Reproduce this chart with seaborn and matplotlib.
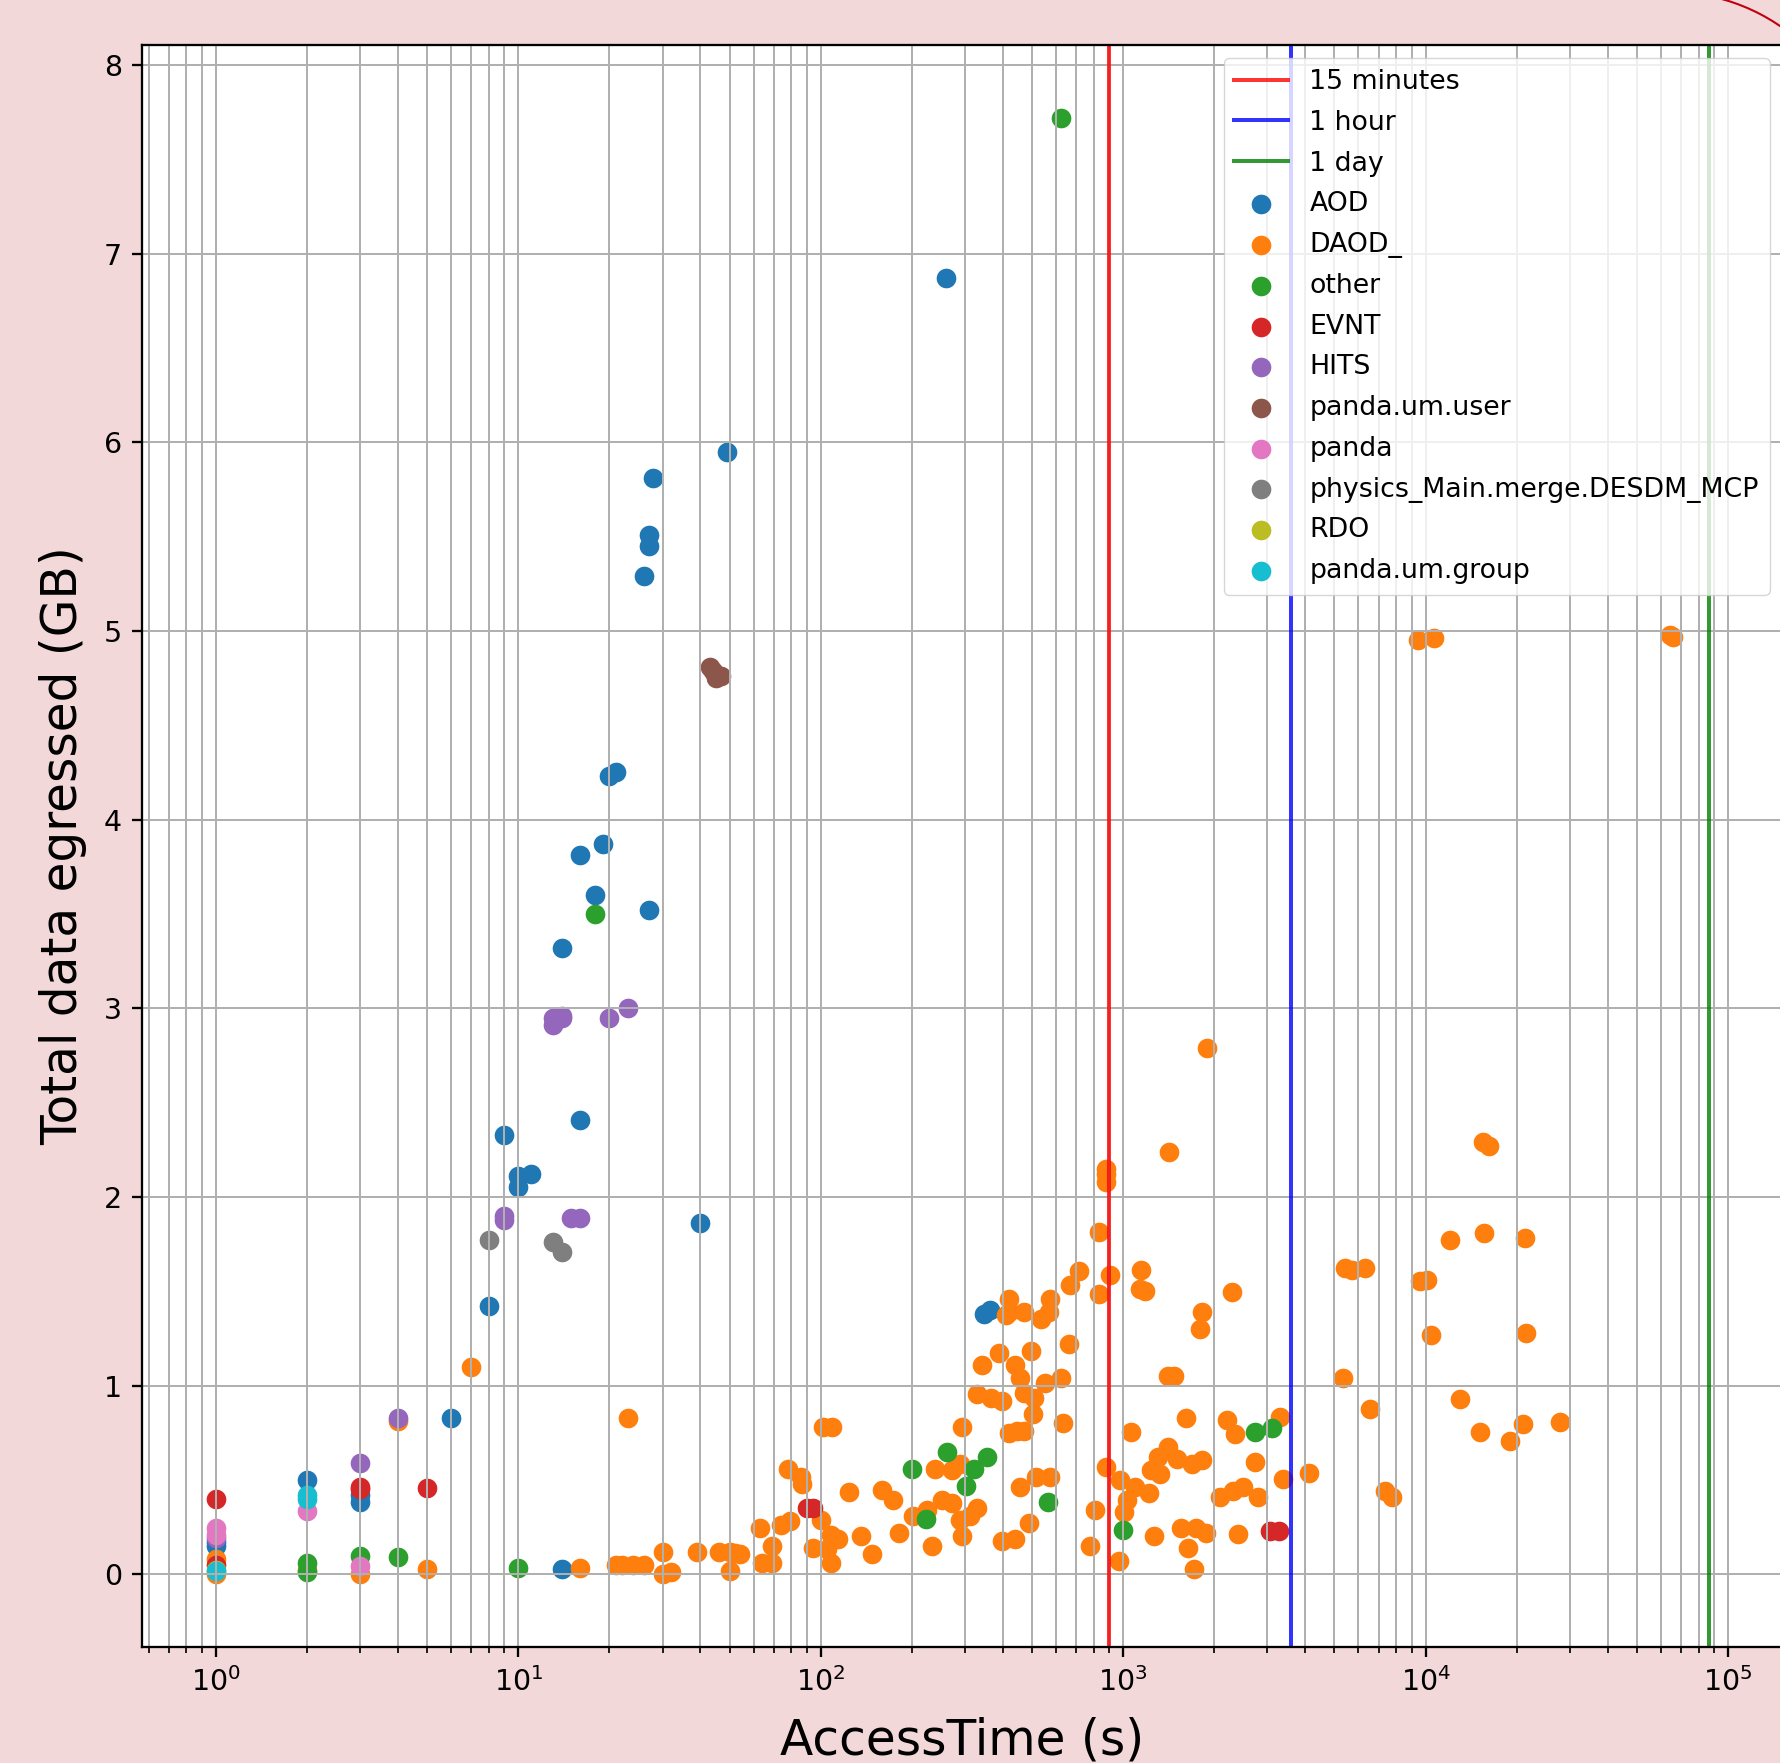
import matplotlib
matplotlib.use("Agg")
import matplotlib.pyplot as plt
from matplotlib.patches import Arc
import seaborn as sns

# === Data: AccessTime (s) vs total data egressed (GB), per dataset type ===
aod_x = [1, 1, 2, 3, 3, 6, 14, 8, 9, 10, 11, 10, 16, 14, 18, 27, 16, 19, 20, 21,
         26, 27, 27, 28, 49, 260, 40, 348, 362]
aod_y = [0.15, 0.17, 0.50, 0.385, 0.42, 0.83, 0.03, 1.42, 2.33, 2.11, 2.12, 2.05, 2.41,
         3.32, 3.60, 3.52, 3.81, 3.87, 4.23, 4.25, 5.29, 5.45, 5.51, 5.81, 5.95, 6.87,
         1.86, 1.38, 1.40]

daod_x = [1, 1, 2, 3, 4, 5, 7, 16, 21, 22, 24, 26, 23, 30, 30, 32, 39, 46, 50, 54, 50,
          831, 716, 669, 902, 1146, 1183, 1140, 831, 1828, 1790, 421, 421, 469, 537, 575,
          568, 410, 388, 495, 662, 341, 439, 457, 552, 624, 330, 367, 398, 469, 509, 502,
          1413, 1472, 1619, 633, 294, 421, 445, 469, 1062, 102, 109, 78, 86, 87, 124, 160,
          174, 238, 272, 288, 877, 1303, 1413, 1513, 1687, 1828, 1320, 1233, 978, 1091,
          1217, 1033, 1005, 809, 777, 966, 1267, 1550, 1736, 1880, 1641, 1722, 457, 517,
          575, 489, 398, 439, 294, 234, 202, 225, 251, 272, 330, 312, 288, 181, 148, 136,
          108, 114, 105, 94, 100, 108, 63, 74, 79, 64, 69, 69, 52,
          2285, 2200, 2345, 2730, 3390, 2800, 2090, 2310, 2495, 2405, 3300,
          15500, 16200, 12090, 15570, 21380, 5420, 5700, 6310, 9580, 10080, 10420, 21540,
          5350, 13040, 6550, 15170, 19090, 20990, 27930, 4130, 7350, 7730,
          9430, 10700, 64300, 66000, 881, 881, 881, 1419, 1888]
daod_y = [0.0, 0.08, 0.02, 0.0, 0.81, 0.026, 1.10, 0.032, 0.05, 0.05, 0.05, 0.05, 0.83,
          0.117, 0.0, 0.01, 0.12, 0.12, 0.12, 0.105, 0.015,
          1.813, 1.608, 1.533, 1.586, 1.612, 1.503, 1.51, 1.486, 1.39, 1.302, 1.46, 1.39,
          1.39, 1.355, 1.46, 1.39, 1.372, 1.171, 1.184, 1.219, 1.11, 1.11, 1.04, 1.014,
          1.04, 0.956, 0.935, 0.918, 0.96, 0.935, 0.848, 1.049, 1.049, 0.83, 0.80, 0.778,
          0.75, 0.76, 0.76, 0.752, 0.781, 0.781, 0.559, 0.516, 0.48, 0.437, 0.446, 0.393,
          0.559, 0.551, 0.586, 0.568, 0.62, 0.673, 0.612, 0.586, 0.603, 0.533, 0.55,
          0.498, 0.463, 0.428, 0.393, 0.332, 0.341, 0.149, 0.07, 0.201, 0.245, 0.245,
          0.218, 0.14, 0.03, 0.463, 0.515, 0.515, 0.271, 0.175, 0.184, 0.2, 0.149, 0.306,
          0.341, 0.393, 0.376, 0.35, 0.306, 0.288, 0.218, 0.105, 0.2, 0.21, 0.184, 0.131,
          0.14, 0.288, 0.061, 0.245, 0.262, 0.28, 0.061, 0.061, 0.149, 0.114,
          1.494, 0.815, 0.745, 0.595, 0.502, 0.407, 0.41, 0.44, 0.46, 0.215, 0.832,
          2.29, 2.27, 1.77, 1.81, 1.78, 1.625, 1.613, 1.625, 1.553, 1.558, 1.27, 1.28,
          1.04, 0.927, 0.878, 0.755, 0.708, 0.798, 0.804, 0.534, 0.44, 0.409,
          4.95, 4.96, 4.98, 4.97, 2.15, 2.12, 2.08, 2.24, 2.79]

other_x = [2, 2, 3, 4, 10, 18, 623, 200, 261, 355, 321, 302, 223, 565, 1000, 2730, 3100]
other_y = [0.01, 0.06, 0.096, 0.093, 0.032, 3.50, 7.72, 0.56, 0.65, 0.62, 0.56, 0.467,
           0.292, 0.381, 0.236, 0.753, 0.776]

evnt_x = [1, 1, 3, 3, 5, 90, 94, 3060, 3270]
evnt_y = [0.40, 0.05, 0.464, 0.45, 0.455, 0.35, 0.35, 0.228, 0.228]

hits_x = [1, 3, 4, 9, 9, 13, 14, 13, 14, 20, 23, 15, 16]
hits_y = [0.19, 0.59, 0.83, 1.90, 1.88, 2.95, 2.95, 2.91, 2.96, 2.95, 3.0, 1.89, 1.89]

um_user_x = [43, 44, 45, 47]
um_user_y = [4.81, 4.79, 4.75, 4.76]

panda_x = [1, 1, 2, 3]
panda_y = [0.245, 0.21, 0.333, 0.044]

physics_x = [8, 13, 14]
physics_y = [1.77, 1.76, 1.71]

rdo_x = [1]
rdo_y = [0.02]

um_group_x = [1, 2, 2]
um_group_y = [0.018, 0.40, 0.42]

series = [
    ("AOD", aod_x, aod_y),
    ("DAOD_", daod_x, daod_y),
    ("other", other_x, other_y),
    ("EVNT", evnt_x, evnt_y),
    ("HITS", hits_x, hits_y),
    ("panda.um.user", um_user_x, um_user_y),
    ("panda", panda_x, panda_y),
    ("physics_Main.merge.DESDM_MCP", physics_x, physics_y),
    ("RDO", rdo_x, rdo_y),
    ("panda.um.group", um_group_x, um_group_y),
]

# time thresholds (s)
thresholds = [(900, "15 minutes", "r"), (3600, "1 hour", "b"), (86400, "1 day", "g")]

# === Plot ===
k = 2.05  # scale factor of the screenshot
plt.rcParams.update({
    "xtick.labelsize": 20.5, "ytick.labelsize": 20.5,
    "xtick.major.size": 3.5 * k, "ytick.major.size": 3.5 * k,
    "xtick.minor.size": 2 * k, "ytick.minor.size": 2 * k,
    "xtick.major.width": 0.8 * k, "ytick.major.width": 0.8 * k,
    "xtick.minor.width": 0.6 * k, "ytick.minor.width": 0.6 * k,
    "xtick.major.pad": 3.5 * k, "ytick.major.pad": 3.5 * k,
    "axes.linewidth": 0.8 * k,
    "grid.linewidth": 0.7 * k, "grid.color": "#b0b0b0",
    "legend.fontsize": 19.3,
})

fig = plt.figure(figsize=(17.81, 17.63), dpi=100, facecolor="#f3d8da")
ax = fig.add_axes([0.0797, 0.0658, 0.9214, 0.9087])
ax.set_xscale("log")

for t, lab, c in thresholds:
    ax.axvline(t, color=c, alpha=0.8, lw=1.4 * k, label=lab)

palette = sns.color_palette("tab10", len(series))
for (name, xs, ys), col in zip(series, palette):
    sns.scatterplot(x=xs, y=ys, color=col, s=200, linewidth=0, label=name, ax=ax)

ax.set_xlim(0.57, 1.52e5)
ax.set_ylim(-0.386, 8.106)
ax.set_yticks(range(0, 9))
ax.grid(True, which="both")
ax.set_xlabel("AccessTime (s)", fontsize=35, labelpad=14)
ax.set_ylabel("Total data egressed (GB)", fontsize=35, labelpad=12)
ax.legend(loc="upper right", labelspacing=0.55)

# red annotation arc in the top-right corner
arc = Arc((1670, 1576), 390, 390, theta1=40, theta2=85, transform=None,
          color="#c00010", lw=1.5, clip_on=False)
fig.add_artist(arc)

plt.savefig("out.png", dpi=100, facecolor=fig.get_facecolor())
plt.close()
